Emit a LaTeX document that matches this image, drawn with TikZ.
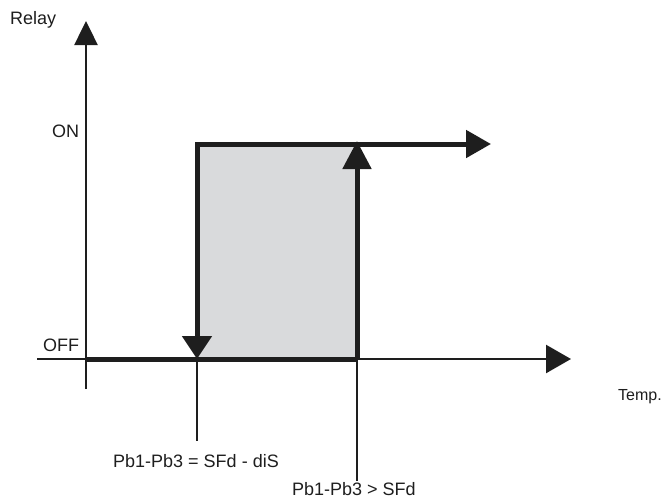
\documentclass[tikz,border=0pt]{standalone}
\usepackage{fontspec}
\setmainfont{Liberation Sans}
\usetikzlibrary{arrows.meta}
\definecolor{ink}{HTML}{1E1E1E}
\definecolor{bandgray}{HTML}{D9DADC}
\tikzset{
  axisline/.style={draw=ink, line width=2.5pt},
  loopline/.style={draw=ink, line width=5pt},
  leader/.style={draw=ink, line width=1.4pt},
  lbl/.style={inner sep=0pt, anchor=base west, text=ink, font=\fontsize{18}{20}\selectfont},
}
\begin{document}
\begin{tikzpicture}[x=1pt, y=-1pt]
  \useasboundingbox (0,0) rectangle (667,499);

  % key points of the switching loop
  \coordinate (origin) at (86,359);
  \coordinate (ytip)   at (86,21);
  \coordinate (ybot)   at (86,389);
  \coordinate (xleft)  at (37,359);
  \coordinate (xtip)   at (571,359);
  \coordinate (offpt)  at (197,359);
  \coordinate (onpt)   at (197,144);
  \coordinate (rtop)   at (357,144);
  \coordinate (rbot)   at (357,359);
  \coordinate (ontip)  at (491,144);
  \coordinate (upTip)  at (357,141);
  \coordinate (lowEnd) at (197,441);
  \coordinate (hiEnd)  at (357,481);

  % hysteresis band
  \fill[bandgray] (onpt) rectangle (rbot);

  % axes
  \draw[axisline, -{Triangle[length=24pt, width=23pt]}] (ybot) -- (ytip);
  \draw[axisline, -{Triangle[length=25pt, width=28pt]}] (xleft) -- (xtip);

  % relay state path
  \draw[loopline] (origin) -- (rbot);
  \draw[loopline, miter limit=4,
        {Triangle[length=23pt, width=29pt]}-{Triangle[length=25pt, width=27pt]}]
        (offpt) -- (onpt) -- (ontip);
  \draw[loopline, -{Triangle[length=28pt, width=28pt]}] (rbot) -- (upTip);

  % threshold leaders
  \draw[leader] (offpt) -- (lowEnd);
  \draw[leader] (rbot) -- (hiEnd);

  % labels
  \node[lbl] (relay) at (10,24) {Relay};
  \node[lbl] (on)    at (52,137) {ON};
  \node[lbl] (off)   at (43,351) {OFF};
  \node[lbl, font=\fontsize{16}{18}\selectfont] (temp) at (618,400) {Temp.};
  \node[lbl] (lowlbl) at (113,467) {Pb1-Pb3 = SFd - diS};
  \node[lbl] (hilbl)  at (292,495) {Pb1-Pb3 > SFd};
\end{tikzpicture}
\end{document}
